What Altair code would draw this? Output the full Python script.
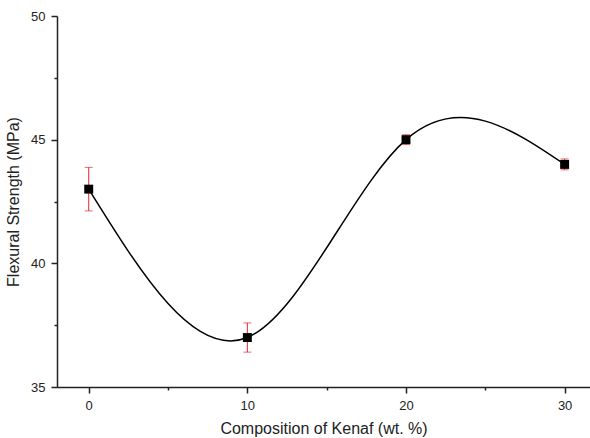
import altair as alt
import pandas as pd

kenaf = [0, 10, 20, 30]
strength = [43.0, 37.0, 45.0, 44.0]
err = [0.88, 0.59, 0.2, 0.22]

df = pd.DataFrame({
    "x": kenaf,
    "y": strength,
    "lo": [s - e for s, e in zip(strength, err)],
    "hi": [s + e for s, e in zip(strength, err)],
})

FONT = "Liberation Sans"
xscale = alt.Scale(domain=[-2, 31.6], nice=False, zero=False)
yscale = alt.Scale(domain=[35, 50], nice=False, zero=False)

xaxis_major = alt.Axis(values=[0, 10, 20, 30], tickSize=6, grid=False, labelFontSize=13,
                       titleFontSize=16, titleFont=FONT, labelFont=FONT, labelColor="#222",
                       titleColor="#222", domainColor="#222", tickColor="#222",
                       domainWidth=1.5, tickWidth=1.5, labelPadding=6, titlePadding=8,
                       titleFontWeight="normal", orient="bottom",
                       title="Composition of Kenaf (wt. %)")
yaxis_major = alt.Axis(values=[35, 40, 45, 50], tickSize=6, grid=False, labelFontSize=13,
                       titleFontSize=16, titleFont=FONT, labelFont=FONT, labelColor="#222",
                       titleColor="#222", domainColor="#222", tickColor="#222",
                       domainWidth=1.5, tickWidth=1.5, labelPadding=6, titlePadding=9,
                       titleFontWeight="normal", orient="left",
                       title="Flexural Strength (MPa)")
xaxis_minor = alt.Axis(values=[5, 15, 25], tickSize=3, labels=False, domain=False, grid=False,
                       title=None, tickColor="#222", tickWidth=1.5, orient="bottom")
yaxis_minor = alt.Axis(values=[37.5, 42.5, 47.5], tickSize=3, labels=False, domain=False,
                       grid=False, title=None, tickColor="#222", tickWidth=1.5, orient="left")

base = alt.Chart(df)

line = base.mark_line(interpolate="natural", color="black", strokeWidth=1.5).encode(
    x=alt.X("x:Q", scale=xscale, axis=xaxis_major),
    y=alt.Y("y:Q", scale=yscale, axis=yaxis_major),
)

RED = "#e3262e"
rules = base.mark_rule(color=RED, strokeWidth=1).encode(
    x=alt.X("x:Q", scale=xscale, axis=xaxis_minor),
    y=alt.Y("lo:Q", scale=yscale, axis=yaxis_minor),
    y2="hi:Q",
)

cap_hi = base.mark_tick(color=RED, orient="horizontal", size=8, thickness=1).encode(
    x=alt.X("x:Q", scale=xscale, axis=None),
    y=alt.Y("hi:Q", scale=yscale, axis=None),
)
cap_lo = base.mark_tick(color=RED, orient="horizontal", size=8, thickness=1).encode(
    x=alt.X("x:Q", scale=xscale, axis=None),
    y=alt.Y("lo:Q", scale=yscale, axis=None),
)

points = base.mark_point(shape="square", filled=True, size=80, color="black", opacity=1).encode(
    x=alt.X("x:Q", scale=xscale, axis=None),
    y=alt.Y("y:Q", scale=yscale, axis=None),
)

chart = alt.layer(line, rules, cap_hi, cap_lo, points).resolve_axis(
    x="independent", y="independent"
).properties(
    width=533, height=371,
    autosize=alt.AutoSizeParams(type="none"),
    padding={"left": 57, "top": 16, "right": 0, "bottom": 51},
    background="white",
).configure_view(stroke=None)

chart.save("out.html", embed_options={"renderer": "svg", "actions": False})
